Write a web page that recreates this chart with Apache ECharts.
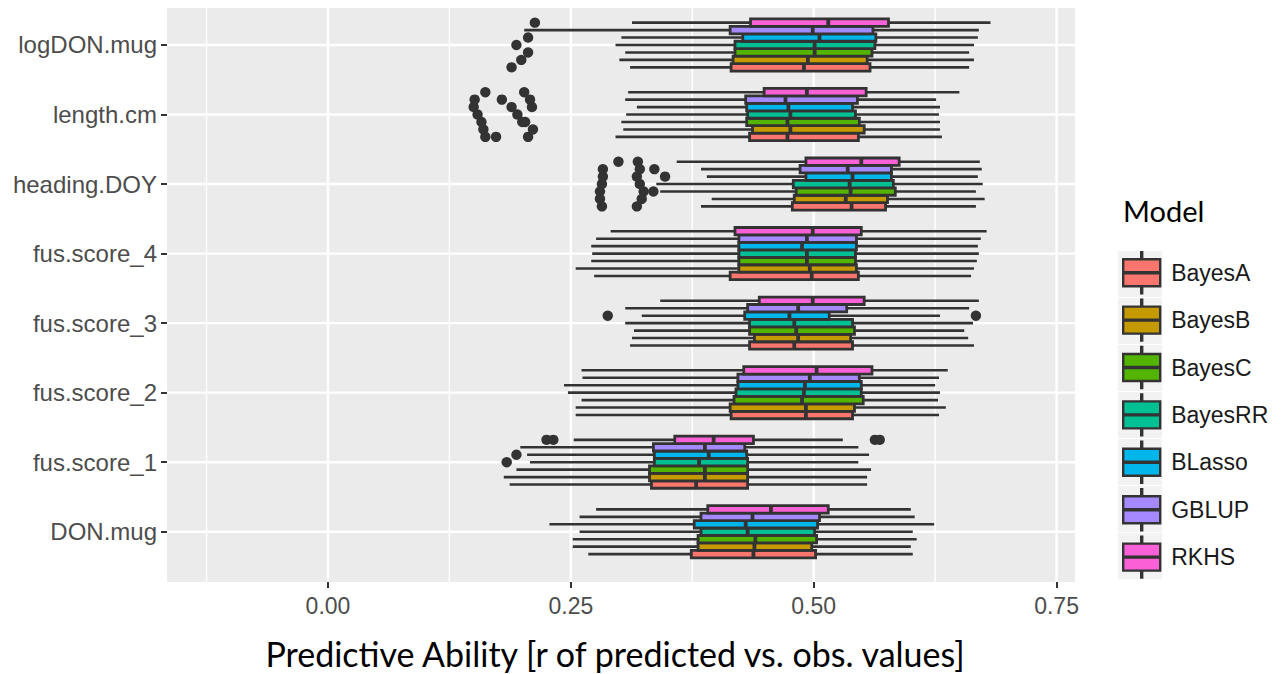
<!DOCTYPE html>
<html>
<head>
<meta charset="utf-8">
<script src="https://cdn.jsdelivr.net/npm/echarts@6/dist/echarts.min.js"></script>
<style>
  html, body { margin: 0; padding: 0; background: #ffffff; }
  #chart { width: 1281px; height: 674px; }
</style>
</head>
<body>
<div id="chart"></div>
<script>
// ---- Data ----
// Category order bottom -> top
const CATEGORIES = ['DON.mug', 'fus.score_1', 'fus.score_2', 'fus.score_3', 'fus.score_4', 'heading.DOY', 'length.cm', 'logDON.mug'];
const MODELS = ['BayesA', 'BayesB', 'BayesC', 'BayesRR', 'BLasso', 'GBLUP', 'RKHS'];
const COLORS = ['#F8766D', '#C49A00', '#53B400', '#00C094', '#00B6EB', '#A58AFF', '#FB61D7'];

// [min whisker, Q1, median, Q3, max whisker] per category (same order as CATEGORIES)
const BAYES_A = [
  [0.268, 0.374, 0.438, 0.502, 0.602],
  [0.187, 0.333, 0.379, 0.432, 0.555],
  [0.255, 0.415, 0.492, 0.540, 0.629],
  [0.311, 0.434, 0.480, 0.540, 0.665],
  [0.274, 0.414, 0.498, 0.546, 0.662],
  [0.384, 0.478, 0.539, 0.574, 0.667],
  [0.296, 0.434, 0.473, 0.546, 0.632],
  [0.311, 0.415, 0.490, 0.558, 0.660]
];
const BAYES_B = [
  [0.252, 0.381, 0.439, 0.498, 0.600],
  [0.181, 0.331, 0.388, 0.432, 0.555],
  [0.255, 0.414, 0.492, 0.542, 0.636],
  [0.313, 0.439, 0.484, 0.538, 0.659],
  [0.255, 0.423, 0.496, 0.544, 0.665],
  [0.395, 0.480, 0.533, 0.576, 0.676],
  [0.304, 0.437, 0.476, 0.552, 0.630],
  [0.300, 0.417, 0.494, 0.555, 0.665]
];
const BAYES_C = [
  [0.252, 0.381, 0.440, 0.503, 0.606],
  [0.194, 0.331, 0.388, 0.432, 0.559],
  [0.261, 0.418, 0.488, 0.551, 0.628],
  [0.315, 0.434, 0.482, 0.542, 0.655],
  [0.271, 0.423, 0.493, 0.543, 0.668],
  [0.342, 0.482, 0.538, 0.584, 0.667],
  [0.302, 0.431, 0.473, 0.547, 0.630],
  [0.306, 0.419, 0.501, 0.560, 0.660]
];
const BAYES_RR = [
  [0.259, 0.384, 0.432, 0.501, 0.602],
  [0.208, 0.336, 0.382, 0.432, 0.546],
  [0.247, 0.420, 0.490, 0.549, 0.630],
  [0.306, 0.434, 0.480, 0.540, 0.664],
  [0.272, 0.423, 0.493, 0.543, 0.670],
  [0.338, 0.479, 0.537, 0.582, 0.674],
  [0.307, 0.432, 0.476, 0.543, 0.629],
  [0.296, 0.419, 0.501, 0.563, 0.665]
];
const BLASSO = [
  [0.228, 0.377, 0.430, 0.504, 0.624],
  [0.205, 0.336, 0.392, 0.431, 0.557],
  [0.243, 0.422, 0.491, 0.549, 0.625],
  [0.323, 0.429, 0.475, 0.516, 0.630],
  [0.271, 0.423, 0.488, 0.544, 0.669],
  [0.390, 0.492, 0.540, 0.580, 0.669],
  [0.318, 0.431, 0.474, 0.540, 0.630],
  [0.302, 0.427, 0.506, 0.564, 0.669]
];
const GBLUP = [
  [0.259, 0.384, 0.437, 0.506, 0.604],
  [0.198, 0.335, 0.388, 0.429, 0.546],
  [0.262, 0.422, 0.496, 0.547, 0.629],
  [0.306, 0.432, 0.484, 0.534, 0.660],
  [0.276, 0.423, 0.493, 0.544, 0.672],
  [0.384, 0.486, 0.535, 0.580, 0.673],
  [0.306, 0.430, 0.471, 0.545, 0.626],
  [0.202, 0.414, 0.499, 0.561, 0.670]
];
const RKHS = [
  [0.276, 0.391, 0.456, 0.515, 0.600],
  [0.253, 0.357, 0.397, 0.438, 0.530],
  [0.261, 0.428, 0.503, 0.560, 0.638],
  [0.342, 0.444, 0.499, 0.552, 0.670],
  [0.291, 0.419, 0.499, 0.549, 0.678],
  [0.359, 0.492, 0.549, 0.588, 0.671],
  [0.309, 0.449, 0.493, 0.554, 0.650],
  [0.313, 0.435, 0.515, 0.577, 0.682]
];

// Outliers: [category index, value]
const OUT_BAYES_A = [[7, 0.189], [6, 0.162], [6, 0.173], [6, 0.206], [5, 0.282], [5, 0.318]];
const OUT_BAYES_B = [[7, 0.199], [6, 0.160], [6, 0.211], [5, 0.280], [5, 0.323]];
const OUT_BAYES_C = [[7, 0.206], [6, 0.158], [6, 0.200], [6, 0.203], [5, 0.280], [5, 0.325], [5, 0.335]];
const OUT_BAYES_RR = [[7, 0.194], [6, 0.154], [6, 0.195], [5, 0.282], [5, 0.321], [1, 0.184]];
const OUT_BLASSO = [[7, 0.206], [6, 0.150], [6, 0.189], [6, 0.210], [5, 0.283], [5, 0.318], [5, 0.347], [3, 0.288], [3, 0.667], [1, 0.194]];
const OUT_GBLUP = [[6, 0.151], [6, 0.179], [6, 0.208], [5, 0.283], [5, 0.321], [5, 0.336]];
const OUT_RKHS = [[7, 0.213], [6, 0.162], [6, 0.202], [5, 0.299], [5, 0.319], [1, 0.225], [1, 0.232], [1, 0.563], [1, 0.568]];

const X_TICKS = [0, 0.25, 0.5, 0.75];
const X_MINOR = [-0.125, 0.125, 0.375, 0.625];
const X_MIN = -0.1657, X_MAX = 0.769;
const Y_MIN = -0.723, Y_MAX = 7.532;

// ---- Build ----
const BOX_DATA = [BAYES_A, BAYES_B, BAYES_C, BAYES_RR, BLASSO, GBLUP, RKHS];
const OUT_DATA = [OUT_BAYES_A, OUT_BAYES_B, OUT_BAYES_C, OUT_BAYES_RR, OUT_BLASSO, OUT_GBLUP, OUT_RKHS];
const DODGE = 0.75;
const NM = MODELS.length;
const INK = '#333333';

function rowValue(cat, m) {
  return cat - DODGE / 2 + (m + 0.5) * DODGE / NM;
}

function boxRenderer(m) {
  return function (params, api) {
    const yv = rowValue(api.value(0), m);
    const h = api.size([0, DODGE / NM])[1];
    const pMin = api.coord([api.value(1), yv]);
    const pQ1 = api.coord([api.value(2), yv]);
    const pMed = api.coord([api.value(3), yv]);
    const pQ3 = api.coord([api.value(4), yv]);
    const pMax = api.coord([api.value(5), yv]);
    const y = pMed[1];
    const wStyle = { stroke: INK, lineWidth: 2.6, fill: null };
    return {
      type: 'group',
      children: [
        { type: 'line', shape: { x1: pMin[0], y1: y, x2: pQ1[0], y2: y }, style: wStyle },
        { type: 'line', shape: { x1: pQ3[0], y1: y, x2: pMax[0], y2: y }, style: wStyle },
        { type: 'rect', shape: { x: pQ1[0], y: y - h / 2, width: pQ3[0] - pQ1[0], height: h },
          style: { fill: COLORS[m], stroke: INK, lineWidth: 2.8 } },
        { type: 'line', shape: { x1: pMed[0], y1: y - h / 2, x2: pMed[0], y2: y + h / 2 },
          style: { stroke: INK, lineWidth: 3.8 } }
      ]
    };
  };
}

function outRenderer(m) {
  return function (params, api) {
    const p = api.coord([api.value(1), rowValue(api.value(0), m)]);
    return { type: 'circle', shape: { cx: p[0], cy: p[1], r: 5.2 }, style: { fill: INK } };
  };
}

// panel grid lines: [value, kind] kind 0 = major vertical, 1 = minor vertical, 2 = horizontal
const GRID_LINES = []
  .concat(X_TICKS.map(v => [v, 0]))
  .concat(X_MINOR.map(v => [v, 1]))
  .concat(CATEGORIES.map((c, i) => [i, 2]));

function gridRenderer(params, api) {
  const cs = params.coordSys;
  const v = api.value(0), kind = api.value(1);
  if (kind === 2) {
    const y = api.coord([0, v])[1];
    return { type: 'line', shape: { x1: cs.x, y1: y, x2: cs.x + cs.width, y2: y },
      style: { stroke: '#ffffff', lineWidth: 2.4 } };
  }
  const x = api.coord([v, 0])[0];
  return { type: 'line', shape: { x1: x, y1: cs.y, x2: x, y2: cs.y + cs.height },
    style: { stroke: '#ffffff', lineWidth: kind === 0 ? 2.4 : 1.4 } };
}

const series = [{
  name: 'panel-grid', type: 'custom', silent: true, z: 1,
  renderItem: gridRenderer, data: GRID_LINES, encode: { x: -1, y: -1 }
}];
MODELS.forEach((name, m) => {
  series.push({
    name: name, type: 'custom', z: 2,
    itemStyle: { color: COLORS[m] },
    renderItem: boxRenderer(m),
    encode: { x: [1, 2, 3, 4, 5], y: 0 },
    data: CATEGORIES.map((c, i) => [i].concat(BOX_DATA[m][i]))
  });
});
MODELS.forEach((name, m) => {
  series.push({
    name: name + ' outliers', type: 'custom', z: 3,
    itemStyle: { color: INK },
    renderItem: outRenderer(m),
    encode: { x: 1, y: 0 },
    data: OUT_DATA[m]
  });
});

const KEY_PATH = 'path://M18 0H19V7H18Z M0 7H37V34H0Z M0 20H37V21H0Z M18 34H19V41H18Z';

const chart = echarts.init(document.getElementById('chart'), null, { renderer: 'svg' });
chart.setOption({
  animation: false,
  backgroundColor: '#ffffff',
  color: COLORS,
  title: {
    text: 'Model', left: 1123, top: 196, padding: 0,
    textStyle: { fontFamily: 'Lato', fontSize: 29, fontWeight: 'normal', color: '#000000' }
  },
  graphic: MODELS.map((n, i) => ({
    type: 'rect', z: -1, silent: true,
    shape: { x: 1118, y: 251 + i * 47, width: 44, height: 46 },
    style: { fill: '#F2F2F2' }
  })),
  legend: {
    orient: 'vertical', left: 1122, top: 251, padding: 0,
    data: MODELS,
    itemWidth: 37, itemHeight: 41, itemGap: 4,
    icon: KEY_PATH,
    itemStyle: { borderColor: INK, borderWidth: 2.4 },
    textStyle: { fontFamily: 'Liberation Sans', fontSize: 23, color: '#1a1a1a', padding: [0, 0, 0, 6] },
    selectedMode: false
  },
  grid: {
    left: 167, top: 8, width: 908, height: 574,
    outerBoundsMode: 'none', containLabel: false,
    show: true, backgroundColor: '#EBEBEB', borderWidth: 0
  },
  xAxis: {
    type: 'value', min: X_MIN, max: X_MAX, position: 'bottom',
    name: 'Predictive Ability [r of predicted vs. obs. values]',
    nameLocation: 'middle', nameGap: 54,
    nameTextStyle: { fontFamily: 'Lato', fontSize: 34, color: '#000000', padding: [0, 12, 0, 0] },
    axisLine: { show: false, onZero: false },
    splitLine: { show: false },
    axisTick: { show: true, customValues: X_TICKS, length: 6, lineStyle: { color: INK, width: 2 } },
    axisLabel: {
      customValues: X_TICKS, margin: 12,
      formatter: v => v.toFixed(2),
      fontFamily: 'Liberation Sans', fontSize: 23, color: '#4D4D4D'
    }
  },
  yAxis: {
    type: 'value', min: Y_MIN, max: Y_MAX, position: 'left',
    axisLine: { show: false, onZero: false },
    splitLine: { show: false },
    axisTick: { show: true, customValues: CATEGORIES.map((c, i) => i), length: 6, lineStyle: { color: INK, width: 2 } },
    axisLabel: {
      customValues: CATEGORIES.map((c, i) => i), margin: 10,
      formatter: v => CATEGORIES[Math.round(v)],
      fontFamily: 'Liberation Sans', fontSize: 24, color: '#4D4D4D'
    }
  },
  series: series
});
</script>
</body>
</html>
